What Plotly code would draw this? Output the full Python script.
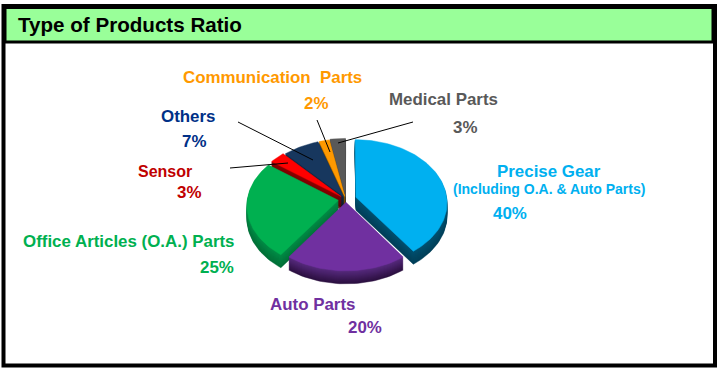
import math
import plotly.graph_objects as go

# ---- data ----
categories = ["Precise Gear", "Auto Parts", "Office Articles (O.A.) Parts", "Sensor", "Others", "Communication Parts", "Medical Parts"]
values = [40, 20, 25, 3, 7, 2, 3]

# ---- styles ----
top_colors = ["#00b0f0", "#7030a0", "#00b050", "#ff0000", "#17375e", "#ff9900", "#595959"]
side_hi = ["#004f6e", "#54297a", "#008a45", "#8a0000", "#10263f", "#8a5600", "#3c3c3c"]
side_lo = ["#003f58", "#2c1040", "#006f38", "#600000", "#0a1a2c", "#6a4200", "#2a2a2a"]
explode = [0.115, 0.045, 0.085, 0.07, 0.05, 0.05, 0.06]
draw_order = [6, 5, 4, 3, 2, 0, 1]

CX, CY, RX, RY, PERSP, DEPTH = 346, 199.5, 91, 63, 0.08, 13


def project(u, v):
    s = 1 + PERSP * v
    return CX + RX * u * s, CY + RY * v * s


def outline(i):
    total = sum(values)
    a0 = sum(values[:i]) / total * 2 * math.pi
    a1 = sum(values[:i + 1]) / total * 2 * math.pi
    mid = (a0 + a1) / 2
    ou, ov = explode[i] * math.sin(mid), -explode[i] * math.cos(mid)
    n = max(4, int(values[i] * 2))
    pts = [project(ou, ov)]
    for k in range(n + 1):
        a = a0 + (a1 - a0) * k / n
        pts.append(project(ou + math.sin(a), ov - math.cos(a)))
    pts.append(pts[0])
    return pts


def mix(c1, c2, t):
    a = [int(c1[j:j + 2], 16) for j in (1, 3, 5)]
    b = [int(c2[j:j + 2], 16) for j in (1, 3, 5)]
    return "#%02x%02x%02x" % tuple(round(p + (q - p) * t) for p, q in zip(a, b))


fig = go.Figure()
for i in draw_order:
    pts = outline(i)
    for d in range(DEPTH, 0, -1):
        col = mix(side_hi[i], side_lo[i], (d - 1) / (DEPTH - 1))
        fig.add_trace(go.Scatter(x=[p[0] for p in pts], y=[p[1] + d for p in pts], mode="lines", fill="toself",
                                 fillcolor=col, line=dict(color=col, width=0.5),
                                 hoverinfo="skip", showlegend=False))
    fig.add_trace(go.Scatter(x=[p[0] for p in pts], y=[p[1] for p in pts], mode="lines", fill="toself",
                             fillcolor=top_colors[i], line=dict(color=top_colors[i], width=0.5),
                             name=categories[i], hoverinfo="name", showlegend=False))

# leader lines
leaders = [((238, 122), (313, 160)), ((230, 168), (288, 163)), ((317, 120), (330, 152)), ((413, 122), (338, 143))]
for a, b in leaders:
    fig.add_trace(go.Scatter(x=[a[0], b[0]], y=[a[1], b[1]], mode="lines", line=dict(color="#000000", width=1),
                             hoverinfo="skip", showlegend=False))

# labels: text, x, y (centre), colour, size
labels = [
    ("Communication  Parts", 272.5, 77, "#ff9900", 16.9),
    ("2%", 316, 103, "#ff9900", 16.9),
    ("Medical Parts", 443.5, 99, "#595959", 16.9),
    ("3%", 465, 127, "#595959", 16.9),
    ("Others", 188, 116, "#003087", 16.9),
    ("7%", 194, 141, "#003087", 16.9),
    ("Sensor", 165, 171, "#c00000", 16),
    ("3%", 189, 192, "#c00000", 16.9),
    ("Precise Gear", 548.5, 171, "#00b0f0", 16.9),
    ("(Including O.A. & Auto Parts)", 548.5, 189, "#00b0f0", 14),
    ("40%", 510, 213, "#00b0f0", 16.9),
    ("Office Articles (O.A.) Parts", 129, 241, "#00b050", 16.9),
    ("25%", 217, 267, "#00b050", 16.9),
    ("Auto Parts", 312, 304, "#7030a0", 16.9),
    ("20%", 365, 327, "#7030a0", 16.9),
]
annotations = [dict(x=x, y=y, text=t, showarrow=False, xanchor="center", yanchor="middle",
                    font=dict(family="Liberation Sans", size=s, color=c))
               for t, x, y, c, s in labels]
annotations.append(dict(x=16, y=24, text="Type of Products Ratio", showarrow=False, xanchor="left", yanchor="middle",
                        font=dict(family="Liberation Sans", size=20.6, color="#000000")))
annotations = [dict(a, text="<b>%s</b>" % a["text"]) for a in annotations]

shapes = [
    dict(type="rect", x0=3.5, y0=6, x1=715, y1=365.5, line=dict(color="#000000", width=4), fillcolor="#ffffff", layer="below"),
    dict(type="rect", x0=5, y0=7.5, x1=713, y1=42, line=dict(color="#000000", width=3), fillcolor="#99ff99", layer="below"),
]

fig.update_layout(
    width=718, height=369, margin=dict(l=0, r=0, t=0, b=0),
    paper_bgcolor="#ffffff", plot_bgcolor="#ffffff", showlegend=False,
    xaxis=dict(range=[0, 718], visible=False, fixedrange=True),
    yaxis=dict(range=[369, 0], visible=False, fixedrange=True),
    annotations=annotations, shapes=shapes,
)
fig.write_html("out.html", config={"displayModeBar": False},
               post_script="document.body.style.margin='0';document.body.style.overflow='hidden';")
